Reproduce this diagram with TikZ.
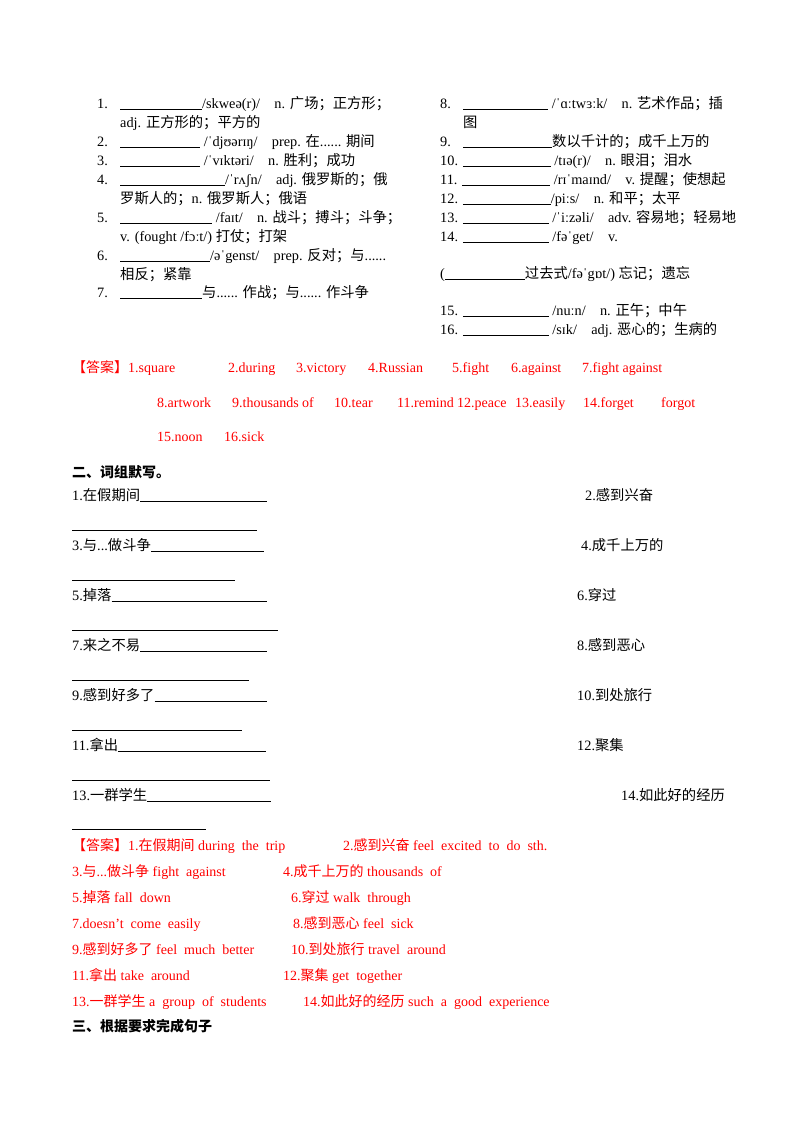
\documentclass[tikz,border=0pt]{standalone}
\usepackage{fontspec}
\setmainfont{Liberation Serif}
\newfontfamily\cjk{Noto Sans CJK SC}
\newcommand\C[1]{{\cjk #1}}
\newcommand\bl[1]{\rule[-1.5pt]{#1pt}{0.6pt}}
\begin{document}
\begin{tikzpicture}[x=1pt,y=-1pt,
  tx/.style={anchor=base west,inner sep=0pt,font=\fontsize{14.3}{16}\selectfont},
  ans/.style={tx,text=red,font=\fontsize{14}{16}\selectfont},
  hd/.style={tx,font=\fontsize{14}{16}\selectfont\cjk\bfseries},
  ul/.style={line width=0.6pt}]
\useasboundingbox[fill=white] (0,0) rectangle (800,1132);
% left column
\node[tx] (n1) at (97,108) {1.};
\node[tx] (a1) at (120,108) {\bl{82}/skweə(r)/\quad n. \C{广场；正方形；}};
\node[tx] (a1b) at (120,127) {adj. \C{正方形的；平方的}};
\node[tx] (n2) at (97,146) {2.};
\node[tx] (a2) at (120,146) {\bl{80} /ˈdjʊərɪŋ/\quad prep. \C{在}...... \C{期间}};
\node[tx] (n3) at (97,165) {3.};
\node[tx] (a3) at (120,165) {\bl{80} /ˈvɪktəri/\quad n. \C{胜利；成功}};
\node[tx] (n4) at (97,184) {4.};
\node[tx] (a4) at (120,184) {\bl{105}/ˈrʌʃn/\quad adj. \C{俄罗斯的；俄}};
\node[tx] (a4b) at (120,203) {\C{罗斯人的；}n. \C{俄罗斯人；俄语}};
\node[tx] (n5) at (97,222) {5.};
\node[tx] (a5) at (120,222) {\bl{92} /faɪt/\quad n. \C{战斗；搏斗；斗争；}};
\node[tx] (a5b) at (120,241) {v. (fought /fɔːt/) \C{打仗；打架}};
\node[tx] (n6) at (97,260) {6.};
\node[tx] (a6) at (120,260) {\bl{90}/əˈgenst/\quad prep. \C{反对；与}......};
\node[tx] (a6b) at (120,279) {\C{相反；紧靠}};
\node[tx] (n7) at (97,297) {7.};
\node[tx] (a7) at (120,297) {\bl{82}\C{与}...... \C{作战；与}...... \C{作斗争}};
% right column
\node[tx] (n8) at (440,108) {8.};
\node[tx] (a8) at (463,108) {\bl{85} /ˈɑːtwɜːk/\quad n. \C{艺术作品；插}};
\node[tx] (a8b) at (463,127) {\C{图}};
\node[tx] (n9) at (440,146) {9.};
\node[tx] (a9) at (463,146) {\bl{89}\C{数以千计的；成千上万的}};
\node[tx] (a10) at (440,165) {10. \bl{88} /tɪə(r)/\quad n. \C{眼泪；泪水}};
\node[tx] (a11) at (440,184) {11. \bl{88} /rɪˈmaɪnd/\quad v. \C{提醒；使想起}};
\node[tx] (a12) at (440,203) {12. \bl{88}/piːs/\quad n. \C{和平；太平}};
\node[tx] (a13) at (440,222) {13. \bl{86} /ˈiːzəli/\quad adv. \C{容易地；轻易地}};
\node[tx] (a14) at (440,241) {14. \bl{86} /fəˈget/\quad v.};
\node[tx] (a14b) at (440,278) {(\bl{80}\C{过去式}/fəˈgɒt/) \C{忘记；遗忘}};
\node[tx] (a15) at (440,315) {15. \bl{86} /nuːn/\quad n. \C{正午；中午}};
\node[tx] (a16) at (440,334) {16. \bl{86} /sɪk/\quad adj. \C{恶心的；生病的}};
% answers 1
\node[ans] (r1) at (72,372) {\C{【答案】}1.square};
\node[ans] at (228,372) {2.during};
\node[ans] at (296,372) {3.victory};
\node[ans] at (368,372) {4.Russian};
\node[ans] at (452,372) {5.fight};
\node[ans] at (511,372) {6.against};
\node[ans] at (582,372) {7.fight against};
\node[ans] at (157,407) {8.artwork};
\node[ans] at (232,407) {9.thousands of};
\node[ans] at (334,407) {10.tear};
\node[ans] at (397,407) {11.remind};
\node[ans] at (457,407) {12.peace};
\node[ans] at (515,407) {13.easily};
\node[ans] at (583,407) {14.forget};
\node[ans] at (661,407) {forgot};
\node[ans] at (157,441) {15.noon};
\node[ans] at (224,441) {16.sick};
% section 2
\node[hd] (h2) at (72,477) {二、词组默写。};
\node[tx] (p1) at (72,500) {1.\C{在假期间}};
\draw[ul] ([yshift=-1.5pt]p1.base east) -- (267,501.5);
\node[tx] (p2) at (585,500) {2.\C{感到兴奋}};
\draw[ul] (72,530) -- (257,530);
\node[tx] (p3) at (72,550) {3.\C{与}...\C{做斗争}};
\draw[ul] ([yshift=-1.5pt]p3.base east) -- (264,551.5);
\node[tx] (p4) at (581,550) {4.\C{成千上万的}};
\draw[ul] (72,580) -- (235,580);
\node[tx] (p5) at (72,600) {5.\C{掉落}};
\draw[ul] ([yshift=-1.5pt]p5.base east) -- (267,601.5);
\node[tx] (p6) at (577,600) {6.\C{穿过}};
\draw[ul] (72,630) -- (278,630);
\node[tx] (p7) at (72,650) {7.\C{来之不易}};
\draw[ul] ([yshift=-1.5pt]p7.base east) -- (267,651.5);
\node[tx] (p8) at (577,650) {8.\C{感到恶心}};
\draw[ul] (72,680) -- (249,680);
\node[tx] (p9) at (72,700) {9.\C{感到好多了}};
\draw[ul] ([yshift=-1.5pt]p9.base east) -- (267,701.5);
\node[tx] (p10) at (577,700) {10.\C{到处旅行}};
\draw[ul] (72,730) -- (242,730);
\node[tx] (p11) at (72,750) {11.\C{拿出}};
\draw[ul] ([yshift=-1.5pt]p11.base east) -- (266,751.5);
\node[tx] (p12) at (577,750) {12.\C{聚集}};
\draw[ul] (72,780) -- (270,780);
\node[tx] (p13) at (72,800) {13.\C{一群学生}};
\draw[ul] ([yshift=-1.5pt]p13.base east) -- (271,801.5);
\node[tx] (p14) at (621,800) {14.\C{如此好的经历}};
\draw[ul] (72,829) -- (206,829);
% answers 2
\node[ans] at (72,850) {\C{【答案】}1.\C{在假期间} during\ \ the\ \ trip};
\node[ans] at (343,850) {2.\C{感到兴奋} feel\ \ excited\ \ to\ \ do\ \ sth.};
\node[ans] at (72,876) {3.\C{与}...\C{做斗争} fight\ \ against};
\node[ans] at (283,876) {4.\C{成千上万的} thousands\ \ of};
\node[ans] at (72,902) {5.\C{掉落} fall\ \ down};
\node[ans] at (291,902) {6.\C{穿过} walk\ \ through};
\node[ans] at (72,928) {7.doesn’t\ \ come\ \ easily};
\node[ans] at (293,928) {8.\C{感到恶心} feel\ \ sick};
\node[ans] at (72,954) {9.\C{感到好多了} feel\ \ much\ \ better};
\node[ans] at (291,954) {10.\C{到处旅行} travel\ \ around};
\node[ans] at (72,980) {11.\C{拿出} take\ \ around};
\node[ans] at (283,980) {12.\C{聚集} get\ \ together};
\node[ans] at (72,1006) {13.\C{一群学生} a\ \ group\ \ of\ \ students};
\node[ans] at (303,1006) {14.\C{如此好的经历} such\ \ a\ \ good\ \ experience};
\node[hd] (h3) at (72,1031) {三、根据要求完成句子};
\end{tikzpicture}
\end{document}
